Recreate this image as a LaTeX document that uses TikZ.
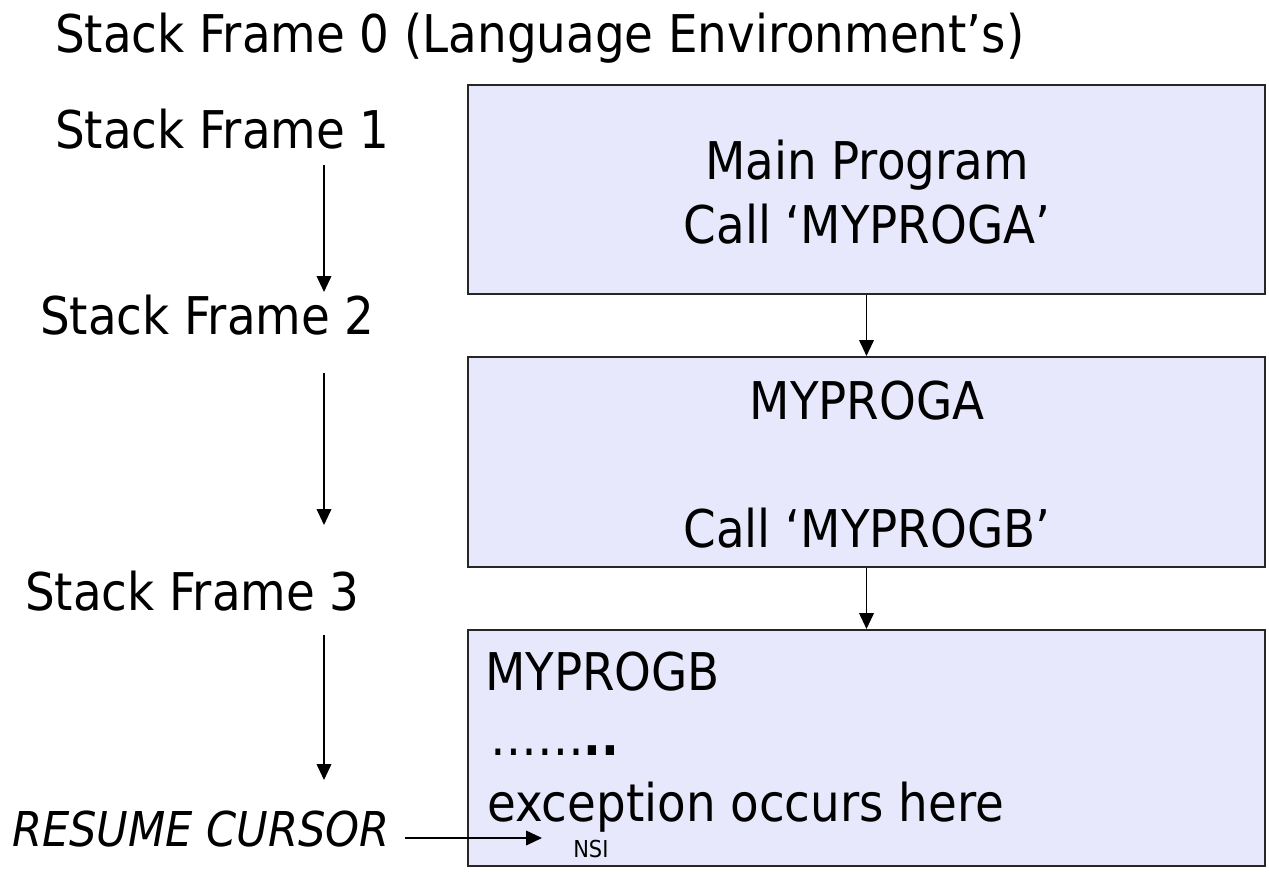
\documentclass[tikz,border=0pt]{standalone}
\usepackage{fontspec}
\setmainfont{DejaVu Sans Condensed}
\usepackage{xcolor}
\usetikzlibrary{arrows.meta}

\definecolor{framefill}{RGB}{232,232,252}
\newcommand{\bigtxt}{\fontsize{39}{47}\selectfont}

\begin{document}
\begin{tikzpicture}[x=0.75pt, y=-0.75pt, >={Triangle[length=12pt, width=11pt]},
    framebox/.style={draw=black!85, line width=1.5pt, fill=framefill, minimum width=597.75pt, inner sep=0pt},
    label/.style={font=\bigtxt, inner sep=0pt, anchor=base west},
    midtxt/.style={font=\bigtxt, inner sep=0pt, anchor=base},
    flow/.style={->, line width=1.3pt}]
    \useasboundingbox (0,0) rectangle (1269,871);

    % Frames
    \node[framebox, minimum height=156.75pt] (main)  at (866.5,189.5) {};
    \node[framebox, minimum height=157.5pt]  (proga) at (866.5,462) {};
    \node[framebox, minimum height=177pt]    (progb) at (866.5,748) {};

    % Texts in the frames
    \node[midtxt] (main1) at (867,179) {Main Program};
    \node[midtxt] (main2) at (867,243) {Call ‘MYPROGA’};
    \node[midtxt] (pa1) at (867,419) {MYPROGA};
    \node[midtxt] (pa2) at (867,547) {Call ‘MYPROGB’};
    \node[label] (pb1) at (485,690) {MYPROGB};
    \node[label] (pb2) at (490,755) {……\textbf{..}};
    \node[label] (pb3) at (487,821) {exception occurs here};
    \node[font=\fontsize{17.5}{21}\selectfont, inner sep=0pt, anchor=base west] (nsi) at (573,857) {NSI};

    % Stack frame labels
    \node[label] (sf0) at (55,52) {Stack Frame 0 (Language Environment’s)};
    \node[label] (sf1) at (55,148) {Stack Frame 1};
    \node[label] (sf2) at (40,334) {Stack Frame 2};
    \node[label] (sf3) at (25,610) {Stack Frame 3};
    \node[label, font=\fontsize{36}{44}\selectfont\itshape] (resume) at (12,846) {RESUME CURSOR};

    % Nodes & Coordinates
    \coordinate (s1) at (324,165);
    \coordinate (e1) at (324,292);
    \coordinate (s2) at (324,373);
    \coordinate (e2) at (324,525);
    \coordinate (s3) at (324,635);
    \coordinate (e3) at (324,780);
    \coordinate (cursor) at (405,838);
    \coordinate (nsiarrow) at (542,838);

    % Arrows
    \draw[flow] (main.south) -- (proga.north);
    \draw[flow] (proga.south) -- (progb.north);
    \draw[flow] (s1) -- (e1);
    \draw[flow] (s2) -- (e2);
    \draw[flow] (s3) -- (e3);
    \draw[flow] (cursor) -- (nsiarrow);
\end{tikzpicture}
\end{document}
